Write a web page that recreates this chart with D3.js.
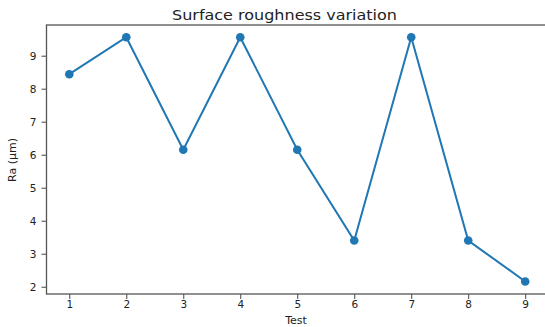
<!DOCTYPE html>
<html>
<head>
<meta charset="utf-8">
<script src="https://cdn.jsdelivr.net/npm/d3@7"></script>
<style>
  body { margin: 0; background: #fff; }
  text { font-family: "DejaVu Sans", sans-serif; fill: #222; }
</style>
</head>
<body>
<svg id="chart" width="545" height="327"></svg>
<script>
const tests = [1, 2, 3, 4, 5, 6, 7, 8, 9];
const roughness = [8.44, 9.56, 6.15, 9.56, 6.15, 3.40, 9.56, 3.40, 2.16];
const yTicks = [2, 3, 4, 5, 6, 7, 8, 9];
const title = 'Surface roughness variation';
const xLabel = 'Test';
const yLabel = 'Ra (\u03bcm)';

const svg = d3.select('svg#chart');
const margin = { top: 25, right: -3, bottom: 33, left: 46.5 };
const width = +svg.attr('width') - margin.left - margin.right;
const height = +svg.attr('height') - margin.top - margin.bottom;

const g = svg.append('g').attr('transform', `translate(${margin.left},${margin.top})`);

const xScale = d3.scaleLinear().domain([0.6, 9.4]).range([0, width]);
const yScale = d3.scaleLinear().domain([1.78, 9.93]).range([height, 0]);

const xAxis = g.append('g')
    .attr('transform', `translate(0,${height})`)
    .call(d3.axisBottom(xScale).tickValues(tests).tickSize(5).tickPadding(2).tickFormat(d3.format('d')));
const yAxis = g.append('g')
    .call(d3.axisLeft(yScale).tickValues(yTicks).tickSize(5).tickPadding(5).tickFormat(d3.format('d')));

[xAxis, yAxis].forEach(a => {
  a.selectAll('text').style('font-size', '10.5px').style('font-family', '"DejaVu Sans", sans-serif').attr('fill', '#222');
  a.selectAll('line').attr('stroke', '#444');
  a.select('.domain').remove();
});

// spines
g.append('rect')
    .attr('x', 0).attr('y', 0)
    .attr('width', width).attr('height', height)
    .attr('fill', 'none')
    .attr('stroke', '#555')
    .attr('stroke-width', 1.3);

const line = d3.line()
    .x((d, i) => xScale(tests[i]))
    .y(d => yScale(d));

g.append('path')
    .datum(roughness)
    .attr('d', line)
    .attr('fill', 'none')
    .attr('stroke', '#1f77b4')
    .attr('stroke-width', 2);

g.selectAll('circle')
    .data(roughness)
    .join('circle')
    .attr('cx', (d, i) => xScale(tests[i]))
    .attr('cy', d => yScale(d))
    .attr('r', 4.3)
    .attr('fill', '#1f77b4');

svg.append('text')
    .attr('x', 172)
    .attr('y', 20)
    .attr('textLength', 225)
    .attr('lengthAdjust', 'spacingAndGlyphs')
    .style('font-size', '13.5px')
    .text(title);

svg.append('text')
    .attr('x', 296)
    .attr('y', 324)
    .attr('text-anchor', 'middle')
    .style('font-size', '11px')
    .text(xLabel);

svg.append('text')
    .attr('transform', 'translate(16,160) rotate(-90)')
    .attr('text-anchor', 'middle')
    .style('font-size', '11px')
    .text(yLabel);
</script>
</body>
</html>
